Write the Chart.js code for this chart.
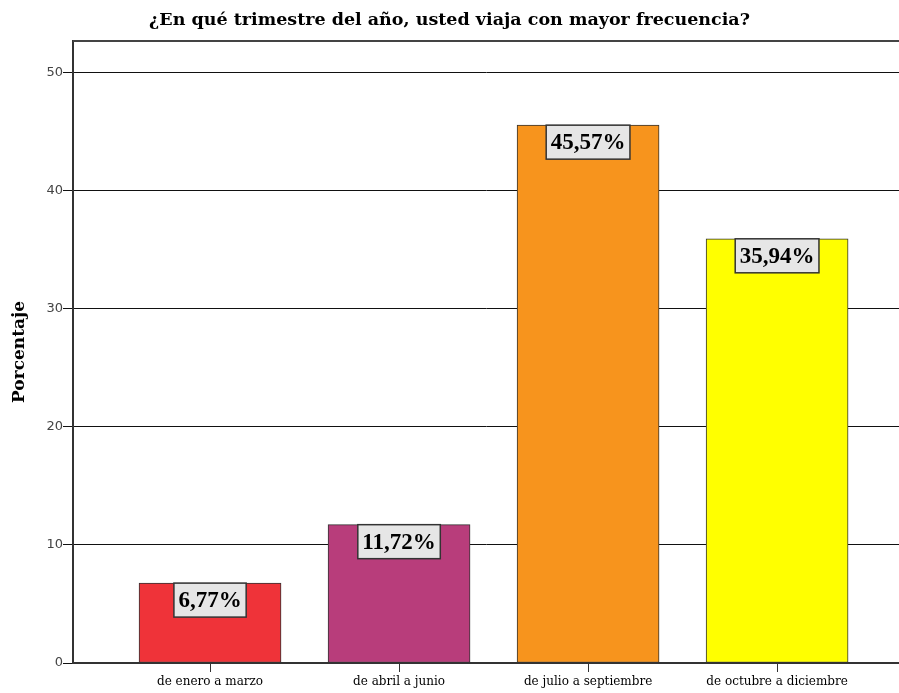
<!DOCTYPE html>
<html>
<head>
<meta charset="utf-8">
<script src="https://cdn.jsdelivr.net/npm/chart.js"></script>
<style>
  body { margin: 0; background: #fff; }
  #wrap { width: 899px; height: 693px; }
</style>
</head>
<body>
<div id="wrap"><canvas id="chart"></canvas></div>
<script>
const categories = ["de enero a marzo", "de abril a junio", "de julio a septiembre", "de octubre a diciembre"]
const percentages = [6.77, 11.72, 45.57, 35.94]
const barColors = ["#ef3339", "#b83d7b", "#f7941d", "#ffff00"]
const yTicks = [0, 10, 20, 30, 40, 50]

// value boxes sitting on top of each bar
const valueBoxes = {
  id: "valueBoxes",
  afterDatasetsDraw(chart) {
    const ctx = chart.ctx
    const meta = chart.getDatasetMeta(0)
    ctx.save()
    ctx.font = "bold 23px 'Liberation Serif'"
    ctx.textAlign = "center"
    ctx.textBaseline = "middle"
    meta.data.forEach((bar, i) => {
      const text = percentages[i].toFixed(2).replace(".", ",") + "%"
      const w = ctx.measureText(text).width + 9
      const h = 34
      const x = bar.x - w / 2
      const y = bar.y
      ctx.fillStyle = "#e6e6e6"
      ctx.fillRect(x, y, w, h)
      ctx.strokeStyle = "#333"
      ctx.lineWidth = 1.5
      ctx.strokeRect(x, y, w, h)
      ctx.fillStyle = "#000"
      ctx.fillText(text, bar.x, y + h / 2 + 1)
    })
    ctx.restore()
  },
}

// top frame line of the plot area
const frame = {
  id: "frame",
  afterDraw(chart) {
    const { ctx, chartArea } = chart
    ctx.save()
    ctx.strokeStyle = "#444"
    ctx.lineWidth = 2
    ctx.beginPath()
    ctx.moveTo(chartArea.left, chartArea.top)
    ctx.lineTo(chartArea.right, chartArea.top)
    ctx.stroke()
    ctx.restore()
  },
}

new Chart(document.getElementById("chart"), {
  type: "bar",
  data: {
    datasets: [
      {
        data: percentages.map((v, i) => ({ x: i, y: v })),
        backgroundColor: barColors,
        borderColor: "#333",
        borderWidth: 1,
        borderSkipped: false,
        barThickness: 142,
      },
    ],
  },
  options: {
    responsive: true,
    maintainAspectRatio: false,
    animation: false,
    plugins: {
      legend: { display: false },
      tooltip: { enabled: false },
      title: {
        display: true,
        text: "¿En qué trimestre del año, usted viaja con mayor frecuencia?",
        color: "#000",
        font: { family: "'DejaVu Serif'", size: 17.5, weight: "bold" },
        padding: { top: 9.5, bottom: 10.5 },
      },
    },
    scales: {
      x: {
        type: "linear",
        offset: false,
        min: -0.725,
        max: 3.645,
        afterBuildTicks: (scale) => {
          scale.ticks = categories.map((_, i) => ({ value: i }))
        },
        afterFit: (scale) => {
          scale.height = 30
        },
        ticks: {
          autoSkip: false,
          maxRotation: 0,
          padding: 3,
          color: "#000",
          font: { family: "'DejaVu Serif'", size: 12 },
          callback: (v) => categories[v],
        },
        grid: { offset: false, drawOnChartArea: false, tickLength: 9, color: "#333", lineWidth: 1 },
        border: { color: "#333", width: 2 },
      },
      y: {
        min: 0,
        max: 52.7,
        afterBuildTicks: (scale) => {
          scale.ticks = yTicks.map((v) => ({ value: v }))
        },
        afterFit: (scale) => {
          scale.width = 73
        },
        ticks: {
          padding: 0,
          color: "#444",
          font: { family: "'DejaVu Sans'", size: 13 },
        },
        grid: { color: "#111", lineWidth: 1, tickLength: 10 },
        border: { color: "#333", width: 2 },
        title: {
          display: true,
          text: "Porcentaje",
          color: "#000",
          font: { family: "'DejaVu Serif'", size: 17, weight: "bold" },
          padding: { top: 9, bottom: 0 },
        },
      },
    },
  },
  plugins: [valueBoxes, frame],
})
</script>
</body>
</html>
